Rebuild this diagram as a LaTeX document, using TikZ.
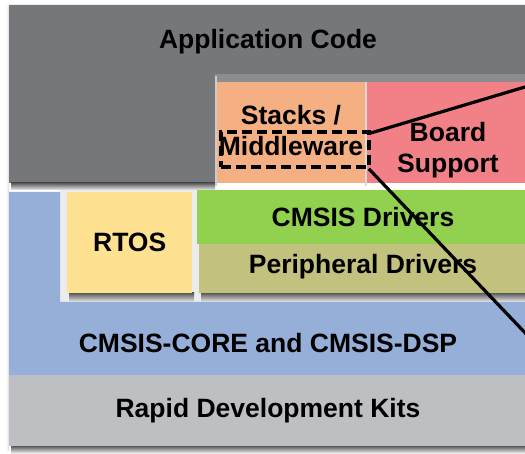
\documentclass[tikz,border=0pt]{standalone}
\usepackage{fontspec}
\setmainfont{Liberation Sans}
\definecolor{appgray}{RGB}{118,119,123}
\definecolor{cutgray}{RGB}{140,141,145}
\definecolor{stackorange}{RGB}{244,176,131}
\definecolor{boardpink}{RGB}{241,129,135}
\definecolor{rtosyellow}{RGB}{255,226,145}
\definecolor{cmsisgreen}{RGB}{146,208,80}
\definecolor{periphol}{RGB}{194,193,126}
\definecolor{coreblue}{RGB}{149,175,216}
\definecolor{kitgray}{RGB}{190,191,195}
\definecolor{innerbg}{RGB}{236,236,238}
\tikzset{
  blk/.style={rectangle, inner sep=0pt, anchor=north west, font=\bfseries\fontsize{26.5}{31}\selectfont, align=center},
  lbl/.style={inner sep=0pt, font=\bfseries\fontsize{26.5}{31}\selectfont, align=center},
  shd/.style={top color=black!65, bottom color=black!8},
  conn/.style={line width=3.2pt, black},
  dashbox/.style={draw=black, line width=3.8pt, dash pattern=on 10pt off 5pt, rectangle, inner sep=0pt, anchor=north west}
}
\begin{document}
\begin{tikzpicture}[x=1pt,y=-1pt]
\useasboundingbox (0,0) rectangle (525,454);
\clip (0,0) rectangle (525,454);
\fill[white] (0,0) rectangle (525,454);
% soft left edges
\shade[left color=white, right color=black!15] (6,7) rectangle (9,450);
% Application code (gray L)
\fill[appgray] (9,5) -- (530,5) -- (530,74) -- (215,74) -- (215,183) -- (9,183) -- cycle;
\shade[shd] (11,183) rectangle (215,190);
\fill[cutgray] (215,74) rectangle (530,183);
\fill[black!20] (215,76) rectangle (217,186);
\fill[white!85!black] (365,82) rectangle (367,186);
\node[lbl] (app) at (268,42) {Application Code};
\node[blk, fill=stackorange, minimum width=148, minimum height=101] (stacks) at (217,82) {};
\node[lbl] (stackstxt) at (291,131) {Stacks /\\Middleware};
\node[blk, fill=boardpink, minimum width=165, minimum height=101] (board) at (367,82) {};
\node[lbl] (boardtxt) at (448,150) {Board\\Support};
% Blue L
\fill[innerbg] (60,190) rectangle (530,302);
\fill[coreblue] (9,192) -- (60,192) -- (60,302) -- (530,302) -- (530,375) -- (9,375) -- cycle;
\node[lbl] (core) at (268,343) {CMSIS-CORE and CMSIS-DSP};
\shade[shd] (69,293) rectangle (194,302);
\shade[shd] (201,293) rectangle (530,302);
\node[blk, fill=rtosyellow, minimum width=125, minimum height=101] (rtos) at (67,192) {RTOS};
\node[blk, fill=cmsisgreen, minimum width=333, minimum height=54] (cmsisdrv) at (197,190) {};
\node[lbl] (cmsistxt) at (363,217) {CMSIS Drivers};
\node[blk, fill=periphol, minimum width=331, minimum height=49] (periph) at (199,244) {};
\node[lbl] (periphtxt) at (363,267) {Peripheral Drivers};
% Rapid development kits
\shade[shd] (11,446) rectangle (530,453);
\node[blk, fill=kitgray, minimum width=521, minimum height=71] (kits) at (9,375) {};
\node[lbl] (kitstxt) at (268,411) {Rapid Development Kits};
% dashed highlight and connectors
\node[dashbox, minimum width=148, minimum height=35] (mw) at (219,130) {};
\coordinate (upEnd) at (530,85.5);
\coordinate (lowEnd) at (530,338);
\draw[conn] ([yshift=-3pt]mw.north east) -- (upEnd);
\draw[conn] ([xshift=-2pt]mw.south east) -- (lowEnd);
\end{tikzpicture}
\end{document}
